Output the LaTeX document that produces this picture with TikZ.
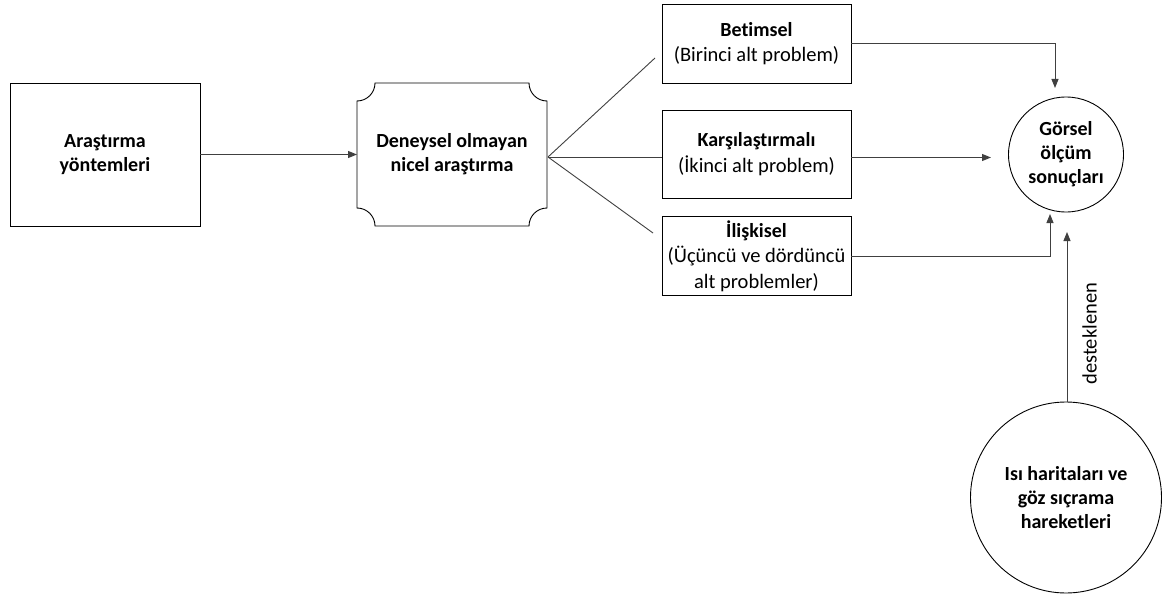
\documentclass[tikz,border=0pt]{standalone}
\usepackage{fontspec}
\setmainfont[Ligatures=NoCommon]{Carlito}
\usepackage{tikz}
\usetikzlibrary{shapes.geometric, arrows.meta, positioning, calc}

\newcommand{\headfont}{\fontsize{20}{24}\selectfont\bfseries}
\newcommand{\subfont}{\fontsize{20.5}{25.5}\selectfont}

\tikzset{
  boxline/.style={draw=black, line width=0.9pt},
  plainbox/.style={boxline, rectangle, align=center, inner sep=0pt, font=\subfont},
  roundnode/.style={boxline, circle, align=center, inner sep=0pt, font=\headfont},
  link/.style={draw=black!75, line width=0.9pt},
  arr/.style={link, -{Triangle[length=9pt,width=7pt]}}
}

\begin{document}
\begin{tikzpicture}[x=1pt, y=1pt]
    \useasboundingbox (0,0) rectangle (1163,-594);

    % Left boxes
    \node[plainbox, minimum width=190pt, minimum height=143pt, font=\headfont] (methods) at (105,-154.5) {Araştırma\\yöntemleri};
    \node[align=center, minimum width=190pt, minimum height=143pt, outer sep=0pt, font=\headfont] (survey) at (452,-154.5) {Deneysel olmayan\\nicel araştırma};
    \draw[boxline] ([yshift=-18pt]survey.north west) arc[start angle=-90, end angle=0, radius=18pt]
        -- ([xshift=-18pt]survey.north east) arc[start angle=180, end angle=270, radius=18pt]
        -- ([yshift=18pt]survey.south east) arc[start angle=90, end angle=180, radius=18pt]
        -- ([xshift=18pt]survey.south west) arc[start angle=0, end angle=90, radius=18pt]
        -- cycle;

    % Sub-problem boxes
    \node[plainbox, minimum width=189pt, minimum height=79pt] (desc) at (756.5,-43.5) {{\headfont Betimsel}\\(Birinci alt problem)};
    \node[plainbox, minimum width=189pt, minimum height=88pt] (compare) at (756.5,-154) {{\headfont Karşılaştırmalı}\\(İkinci alt problem)};
    \node[plainbox, minimum width=189pt, minimum height=79pt] (relate) at (756.5,-256) {{\headfont İlişkisel}\\(Üçüncü ve dördüncü\\alt problemler)};

    % Result circles
    \node[roundnode, minimum size=115pt] (visual) at (1066,-154.5) {Görsel\\ölçüm\\sonuçları};
    \node[roundnode, minimum size=191pt] (heat) at (1066,-497.5) {Isı haritaları ve\\göz sıçrama\\hareketleri};

    % Free ends
    \coordinate (fan) at ($(survey.east)+(1,-2.5)$);
    \coordinate (fanup) at (655,-58);
    \coordinate (fandown) at (653,-233);
    \coordinate (intop) at (1055,-88);
    \coordinate (inleft) at (991,-157.5);
    \coordinate (inbot) at (1050,-214);
    \coordinate (insup) at (1067,-232);

    % Connectors
    \draw[arr] (methods.east) -- (survey.west);
    \draw[link] (fan) -- (fanup);
    \draw[link] (fan) -- (compare.west |- fan);
    \draw[link] (fan) -- (fandown);
    \draw[arr] (desc.east) -| (intop);
    \draw[arr] (compare.east |- inleft) -- (inleft);
    \draw[arr] (relate.east) -| (inbot);
    \draw[arr] (heat.north -| insup) -- node[pos=0.4, rotate=90, anchor=north, outer sep=12pt, font=\subfont] {desteklenen} (insup);

\end{tikzpicture}
\end{document}
